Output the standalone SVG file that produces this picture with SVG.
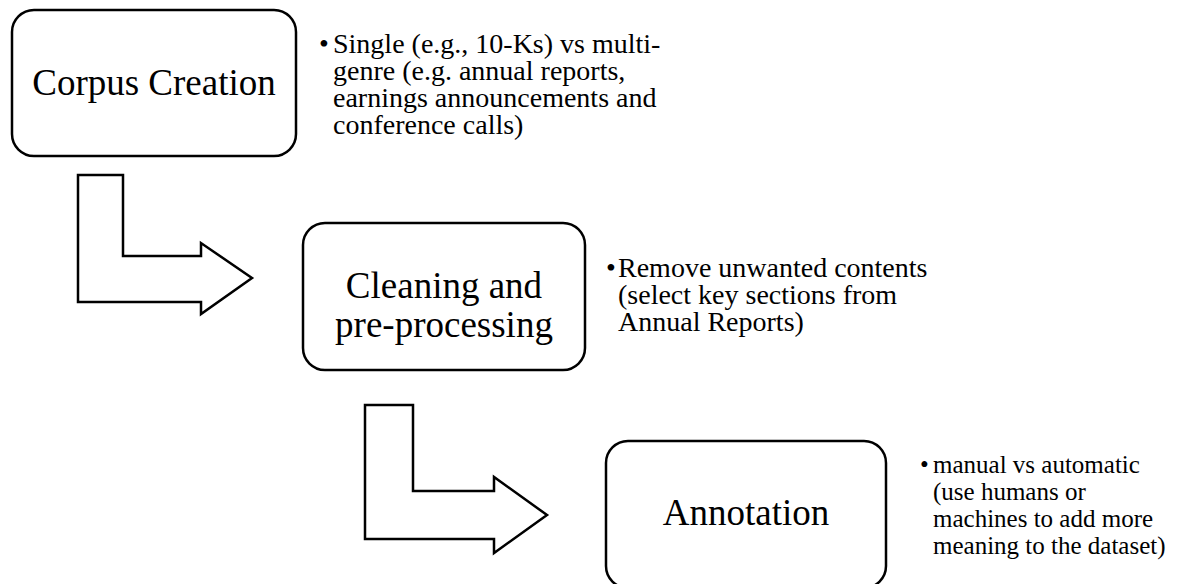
<svg xmlns="http://www.w3.org/2000/svg" width="1181" height="584" viewBox="0 0 1181 584">
  <style>
    .box { fill: #ffffff; stroke: #000000; stroke-width: 2.5; }
    .arrow { fill: #ffffff; stroke: #000000; stroke-width: 2.5; stroke-linejoin: miter; }
    .title { font-family: "Liberation Serif", "Times New Roman", serif; font-size: 37px; fill: #000000; text-anchor: middle; }
    .bul { font-family: "Liberation Serif", "Times New Roman", serif; font-size: 28px; fill: #000000; }
    .bul3 { font-family: "Liberation Serif", "Times New Roman", serif; font-size: 25px; fill: #000000; }
  </style>
  <rect width="1181" height="584" fill="#ffffff"/>
  <g id="connectors">
    <polygon class="arrow" points="78,175 123,175 123,256 201,256 201,243 252,278 201,314 201,302 78,302"/>
    <polygon class="arrow" points="365,405 413,405 413,491 494,491 494,477 547,515 494,553 494,539 365,539"/>
  </g>
  <g id="node-corpus">
    <rect class="box" x="12" y="10" width="284" height="146" rx="22" ry="22"/>
    <text class="title" x="154" y="95">Corpus Creation</text>
  </g>
  <g id="note-corpus">
    <text class="bul"><tspan x="319" y="53">•</tspan><tspan x="333" y="53">Single (e.g., 10-Ks) vs multi-</tspan><tspan x="333" y="80">genre (e.g. annual reports,</tspan><tspan x="333" y="107">earnings announcements and</tspan><tspan x="333" y="134">conference calls)</tspan></text>
  </g>
  <g id="node-cleaning">
    <rect class="box" x="303" y="223" width="282" height="147" rx="22" ry="22"/>
    <text class="title"><tspan x="444" y="298">Cleaning and</tspan><tspan x="444" y="337">pre-processing</tspan></text>
  </g>
  <g id="note-cleaning">
    <text class="bul"><tspan x="606" y="277">•</tspan><tspan x="618" y="277">Remove unwanted contents</tspan><tspan x="618" y="304">(select key sections from</tspan><tspan x="618" y="331">Annual Reports)</tspan></text>
  </g>
  <g id="node-annotation">
    <rect class="box" x="606" y="441" width="280" height="147" rx="22" ry="22"/>
    <text class="title" x="746" y="525">Annotation</text>
  </g>
  <g id="note-annotation">
    <text class="bul3"><tspan x="920" y="473">•</tspan><tspan x="933" y="473">manual vs automatic</tspan><tspan x="933" y="500">(use humans or</tspan><tspan x="933" y="527">machines to add more</tspan><tspan x="933" y="554">meaning to the dataset)</tspan></text>
  </g>
</svg>
